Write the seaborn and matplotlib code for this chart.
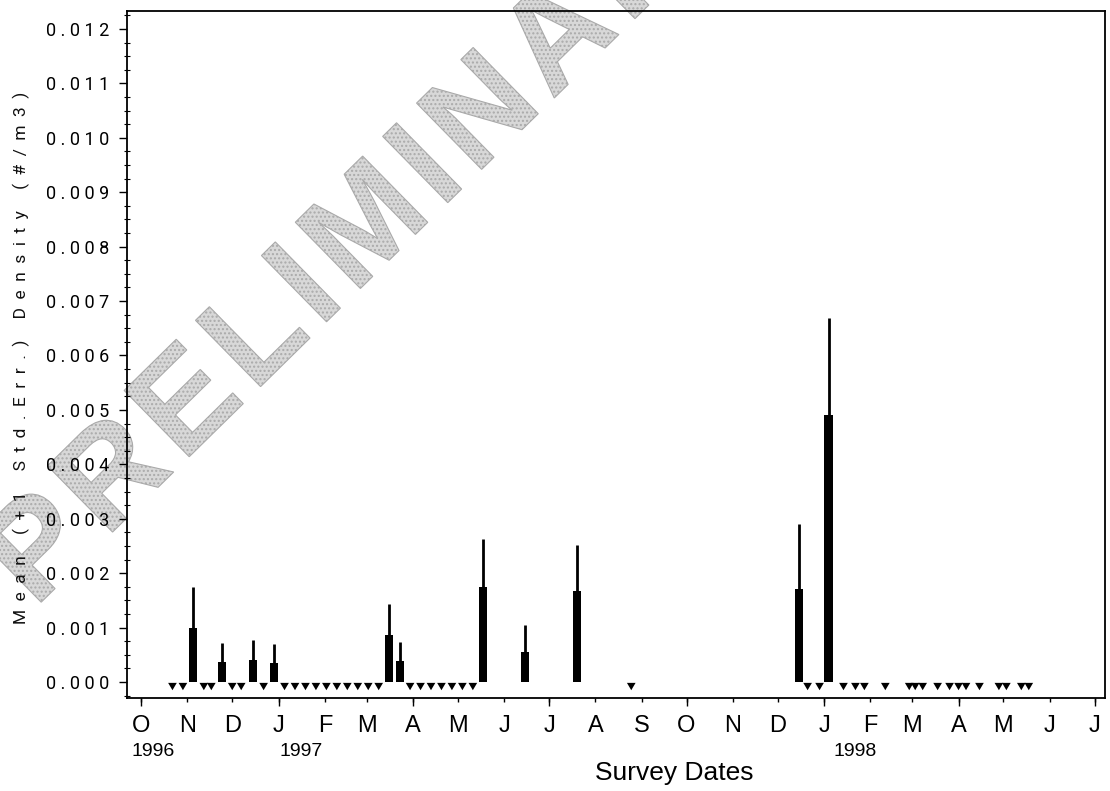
import numpy as np
import pandas as pd
import matplotlib
matplotlib.use("Agg")
import matplotlib.pyplot as plt
import matplotlib.transforms as mtransforms
from matplotlib.path import Path
from matplotlib.markers import MarkerStyle
from matplotlib.textpath import TextPath
from matplotlib.patches import PathPatch
from matplotlib.font_manager import FontProperties
import seaborn as sns

# Surveys with a positive catch: mean density and one standard error (#/m3)
catch_dates = ["1996-11-05", "1996-11-24", "1996-12-15", "1996-12-29",
               "1997-03-16", "1997-03-23", "1997-05-18", "1997-06-15",
               "1997-07-20", "1997-12-15", "1998-01-04"]
catch_mean = [0.00100, 0.00036, 0.00040, 0.00035, 0.00086, 0.00038,
              0.00175, 0.00055, 0.00167, 0.00170, 0.00490]
catch_se = [0.00074, 0.00035, 0.00038, 0.00035, 0.00058, 0.00035,
            0.00087, 0.00049, 0.00085, 0.00120, 0.00179]

# Surveys with no catch
zero_dates = ["1996-10-22", "1996-10-29", "1996-11-12", "1996-11-17",
              "1996-12-01", "1996-12-07", "1996-12-22",
              "1997-01-05", "1997-01-12", "1997-01-19", "1997-01-26",
              "1997-02-02", "1997-02-09", "1997-02-16", "1997-02-23",
              "1997-03-02", "1997-03-09", "1997-03-30", "1997-04-06",
              "1997-04-13", "1997-04-20", "1997-04-27", "1997-05-04",
              "1997-05-11", "1997-08-25", "1997-12-21", "1997-12-29",
              "1998-01-14", "1998-01-22", "1998-01-28", "1998-02-11",
              "1998-02-27", "1998-03-03", "1998-03-08", "1998-03-18",
              "1998-03-26", "1998-04-01", "1998-04-06", "1998-04-15",
              "1998-04-28", "1998-05-03", "1998-05-13", "1998-05-18"]
zero_density = [0.0] * len(zero_dates)

month_labels = ["O", "N", "D", "J", "F", "M", "A", "M", "J", "J", "A",
                "S", "O", "N", "D", "J", "F", "M", "A", "M", "J", "J"]
year_labels = ["1996", "1997", "1998"]
y_tick_values = [0.000, 0.001, 0.002, 0.003, 0.004, 0.005, 0.006,
                 0.007, 0.008, 0.009, 0.010, 0.011, 0.012]
y_title = "Mean (+1 Std.Err.) Density (#/m3)"
x_title = "Survey Dates"
watermark = "PRELIMINARY"

sns.set_theme(style="ticks")
plt.rcParams["font.family"] = ["Liberation Sans", "DejaVu Sans"]

W, H = 1110, 791
fig = plt.figure(figsize=(W / 100, H / 100), dpi=100)
fig.patch.set_facecolor("white")
ax = fig.add_axes([127 / W, 1 - 698 / H, (1105 - 127) / W, (698 - 11) / H])
ax.set_facecolor("none")

catch = pd.DataFrame({"date": pd.to_datetime(catch_dates),
                      "mean": catch_mean, "se": catch_se})
zeros = pd.DataFrame({"date": pd.to_datetime(zero_dates),
                      "density": zero_density})

# mean as a thick bar, +1 SE as a thin line on top of it
ax.bar(catch["date"], catch["mean"], width=5.4, color="black",
       linewidth=0, zorder=3)
ax.vlines(catch["date"], catch["mean"], catch["mean"] + catch["se"],
          color="black", linewidth=2.0, zorder=3)

# zero catches: downward triangle hanging just under the zero line
tri = MarkerStyle(Path([(-0.5, -0.1), (0.5, -0.1), (0.0, -0.95), (-0.5, -0.1)],
                       [Path.MOVETO, Path.LINETO, Path.LINETO, Path.CLOSEPOLY]))
sns.scatterplot(data=zeros, x="date", y="density", marker=tri, s=140,
                color="black", edgecolor="none", linewidth=0, ax=ax,
                zorder=3, legend=False)
ax.set_xlabel("")
ax.set_ylabel("")

ax.set_xlim(pd.Timestamp("1996-09-21 14:00"), pd.Timestamp("1998-07-08"))
ax.set_ylim(-0.000294, 0.01233)

# x axis: a letter per month, longer ticks at quarter starts
month_starts = pd.date_range("1996-10-01", "1998-07-01", freq="MS")
ax.set_xticks(month_starts)
ax.set_xticklabels(month_labels, fontsize=17, family="Liberation Sans")
quarter_starts = [d for d in month_starts if d.month in (1, 4, 7, 10)]
ax.set_xticks(quarter_starts, minor=True)
ax.xaxis.remove_overlapping_locs = False
ax.tick_params(axis="x", which="major", direction="out", length=3,
               width=1.0, pad=9, colors="black")
ax.tick_params(axis="x", which="minor", direction="out", length=6,
               width=1.0, colors="black")

year_pos = [pd.Timestamp("1996-10-09"), pd.Timestamp("1997-01-16"),
            pd.Timestamp("1998-01-22")]
xt = mtransforms.blended_transform_factory(ax.transData, ax.transAxes)
for pos, lab in zip(year_pos, year_labels):
    ax.text(pos, -0.0786, lab, transform=xt, ha="center", va="center",
            fontsize=14, family="Liberation Sans", color="black")

# y axis: spaced digits, quarter-step minor ticks
ax.set_yticks(y_tick_values)
ax.set_yticklabels([" ".join(f"{v:.3f}") for v in y_tick_values],
                   fontsize=13, family=["Roboto", "DejaVu Sans"],
                   color="#111111")
ax.set_yticks(np.arange(-0.00025, 0.01233, 0.00025), minor=True)
ax.tick_params(axis="y", which="major", direction="out", length=6,
               width=1.0, pad=7, colors="black")
ax.tick_params(axis="y", which="minor", direction="inout", length=4,
               width=0.8, colors="black")

for side in ["left", "right", "top", "bottom"]:
    ax.spines[side].set_visible(True)
    ax.spines[side].set_color("black")
    ax.spines[side].set_linewidth(1.3)

fig.text(21 / W, 1 - 358 / H, "  ".join(y_title), rotation=90,
         ha="center", va="center", fontsize=12.5,
         family=["Roboto", "DejaVu Sans"], color="#111111")
fig.text(674 / W, 1 - 773 / H, x_title, ha="center", va="center",
         fontsize=19, family="Liberation Sans", color="black")

# diagonal stippled draft stamp behind the plot, letters set with tracking
fp = FontProperties(family="Liberation Sans", weight="bold")
size, tracking = 135, 10
glyphs, pen = [], 0.0
bar_w = TextPath((0, 0), "|", size=size, prop=fp).get_extents().x1
for ch in watermark:
    glyphs.append(TextPath((pen, 0), ch, size=size, prop=fp))
    adv = TextPath((0, 0), ch + "|", size=size, prop=fp).get_extents().x1 - bar_w
    pen += adv + tracking
word = Path.make_compound_path(*glyphs)
ext = word.get_extents()
stamp_tf = (mtransforms.Affine2D()
            .translate(-(ext.x0 + ext.x1) / 2, -(ext.y0 + ext.y1) / 2)
            .rotate_deg(44.5)
            .translate(372, H - 212))
stamp = PathPatch(stamp_tf.transform_path(word), facecolor="#d8d8d8",
                  edgecolor="#aaaaaa", hatch="....", linewidth=0.8,
                  transform=mtransforms.IdentityTransform(), zorder=-1)
fig.add_artist(stamp)

fig.savefig("out.png", dpi=100)
